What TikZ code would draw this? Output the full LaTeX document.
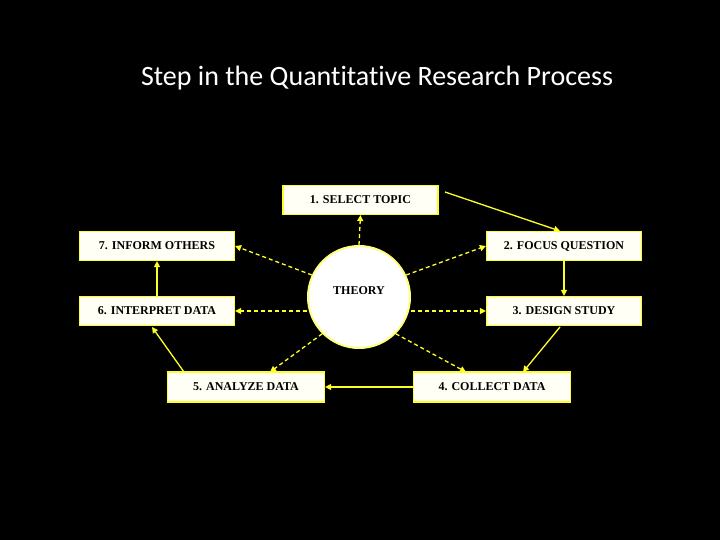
\documentclass[tikz,border=0pt]{standalone}
\usepackage{fontspec}
\setmainfont{Liberation Serif}
\newfontfamily\titlefont[Ligatures=NoCommon]{Carlito}
\usetikzlibrary{arrows.meta}
\definecolor{ylw}{RGB}{255,255,40}
\definecolor{boxfill}{RGB}{255,255,245}
\tikzset{
  stepbox/.style={draw=ylw, line width=1.2pt, fill=boxfill, minimum width=155pt, minimum height=29pt, inner sep=0pt, font=\bfseries\fontsize{12}{14}\selectfont},
  flow/.style={draw=ylw, line width=1.3pt, -{Triangle[length=6pt,width=6pt]}},
  dflow/.style={flow, dash pattern=on 4pt off 3pt},
}
\begin{document}
\begin{tikzpicture}[x=1pt,y=-1pt]
\fill[black] (0,0) rectangle (720,540);
\useasboundingbox (0,0) rectangle (720,540);
\node[text=white, font=\titlefont\fontsize{28}{32}\selectfont] (title) at (377,78) {Step in the Quantitative Research Process};
\node[stepbox] (s1) at (360.5,200) {1. SELECT TOPIC};
\node[stepbox] (s2) at (564,246) {2. FOCUS QUESTION};
\node[stepbox] (s3) at (564,311) {3. DESIGN STUDY};
\node[stepbox, minimum width=157pt, minimum height=30pt] (s4) at (492,387) {4. COLLECT DATA};
\node[stepbox, minimum width=157pt, minimum height=30pt] (s5) at (246,387) {5. ANALYZE DATA};
\node[stepbox] (s6) at (157,311) {6. INTERPRET DATA};
\node[stepbox] (s7) at (157,246) {7. INFORM OTHERS};
\node[circle, draw=ylw!60!white, line width=2pt, fill=white, minimum size=102pt, inner sep=0pt] (th) at (359,297) {};
\node[font=\bfseries\fontsize{12}{14}\selectfont] (thl) at (359,291) {THEORY};
% dashed arrows from theory
\draw[dflow] (th.north) -- (s1.south);
\draw[dflow] (th.155) -- (s7.east);
\draw[dflow] (th.25) -- (s2.west);
\draw[dflow] (th.west |- s6.east) -- (s6.east);
\draw[dflow] (th.east |- s3.west) -- (s3.west);
\coordinate (a5) at (270,372);
\coordinate (a4) at (466,372);
\draw[dflow] (th.225) -- (a5);
\draw[dflow] (th.-45) -- (a4);
% solid cycle
\coordinate (c1) at (445,192);
\coordinate (c2) at (560,231);
\draw[flow] (c1) -- (c2);
\draw[flow] (s2.south) -- (s3.north);
\coordinate (c3) at (560,327);
\coordinate (c4) at (523,372);
\draw[flow] (c3) -- (c4);
\draw[flow] (s4.west) -- (s5.east);
\coordinate (c5) at (184,372);
\coordinate (c6) at (152,327);
\draw[flow] (c5) -- (c6);
\draw[flow] (s6.north) -- (s7.south);
\end{tikzpicture}
\end{document}
